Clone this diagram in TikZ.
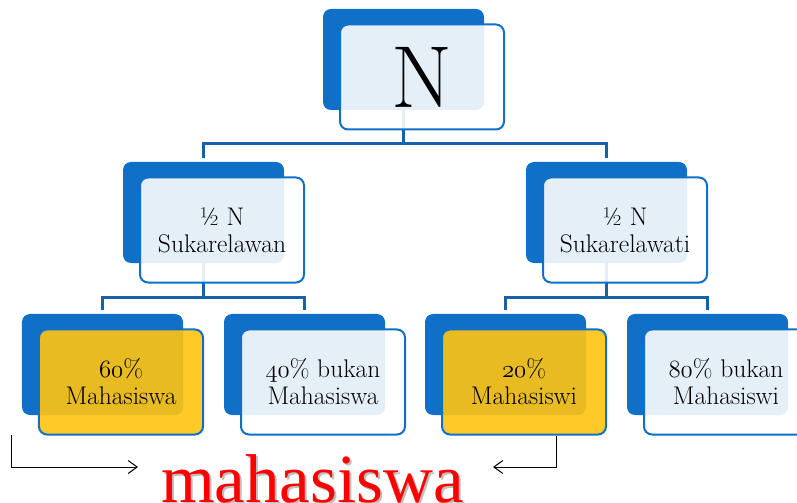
\documentclass[tikz,border=0pt]{standalone}
\usepackage{fontspec}
\usetikzlibrary{arrows.meta}
\newfontfamily\timesfont{Liberation Serif}
\newcommand\osn[1]{{\usefont{OML}{cmm}{m}{it}#1}}
\definecolor{boxblue}{RGB}{16,111,198}
\definecolor{connblue}{RGB}{24,96,170}
\definecolor{boxyellow}{RGB}{255,196,16}
\begin{document}
\begin{tikzpicture}[x=1bp,y=-1bp,
  backbox/.style={fill=boxblue, rounded corners=8bp, minimum width=161bp, minimum height=101bp, inner sep=0pt, outer sep=0pt},
  frontbox/.style={draw=boxblue, line width=2bp, fill=white, fill opacity=0.89, text opacity=1, rounded corners=8bp, minimum width=164bp, minimum height=105bp, inner sep=0pt, outer sep=0pt, align=center, font=\fontsize{25.5bp}{27bp}\selectfont},
  yellowbox/.style={frontbox, fill=boxyellow, fill opacity=0.9},
  conn/.style={draw=connblue, line width=3bp},
  pointer/.style={draw=black, line width=1bp, -{Straight Barb[length=9bp,width=13bp]}}]
\useasboundingbox (0,0) rectangle (797,503);
\clip (0,0) rectangle (797,503);
% back boxes
\node[backbox] (nb) at (403.5,59.5) {};
\node[backbox] (lb) at (203.5,212.5) {};
\node[backbox] (rb) at (606.5,212.5) {};
\node[backbox] (ab) at (102.5,364.5) {};
\node[backbox] (bb) at (304.5,364.5) {};
\node[backbox] (cb) at (505.5,364.5) {};
\node[backbox] (db) at (707.5,364.5) {};
% connectors
\draw[conn] (nb.south) -- (nb.south |- 0,144) -| ([yshift=4bp]lb.north);
\draw[conn] (nb.south) -- (nb.south |- 0,144) -| ([yshift=4bp]rb.north);
\draw[conn] (lb.south) -- (lb.south |- 0,297) -| ([yshift=4bp]ab.north);
\draw[conn] (lb.south) -- (lb.south |- 0,297) -| ([yshift=4bp]bb.north);
\draw[conn] (rb.south) -- (rb.south |- 0,297) -| ([yshift=4bp]cb.north);
\draw[conn] (rb.south) -- (rb.south |- 0,297) -| ([yshift=4bp]db.north);
% front boxes
\node[frontbox, font=\fontsize{88bp}{88bp}\selectfont] (nf) at (422,77) {N};
\node[frontbox] (lf) at (222,230) {½ N\\Sukarelawan};
\node[frontbox] (rf) at (625,230) {½ N\\Sukarelawati};
\node[yellowbox] (af) at (121,382) {\osn{60}\%\\Mahasiswa};
\node[frontbox] (bf) at (323,382) {\osn{40}\% bukan\\Mahasiswa};
\node[yellowbox] (cf) at (524,382) {\osn{20}\%\\Mahasiswi};
\node[frontbox] (df) at (726,382) {\osn{80}\% bukan\\Mahasiswi};
% label
\node[anchor=base, text=black!25, font=\timesfont\fontsize{69bp}{69bp}\selectfont, inner sep=0pt] (msh) at (314.5,504) {mahasiswa};
\node[anchor=base, text=red, font=\timesfont\fontsize{69bp}{69bp}\selectfont, inner sep=0pt] (ms) at (312.5,502) {mahasiswa};
% pointers
\coordinate (p1) at (11,435);
\coordinate (p2) at (138,467);
\coordinate (p3) at (556,436);
\coordinate (p4) at (493,467);
\draw[pointer] (p1) |- (p2);
\draw[pointer] (p3) |- (p4);
\end{tikzpicture}
\end{document}
